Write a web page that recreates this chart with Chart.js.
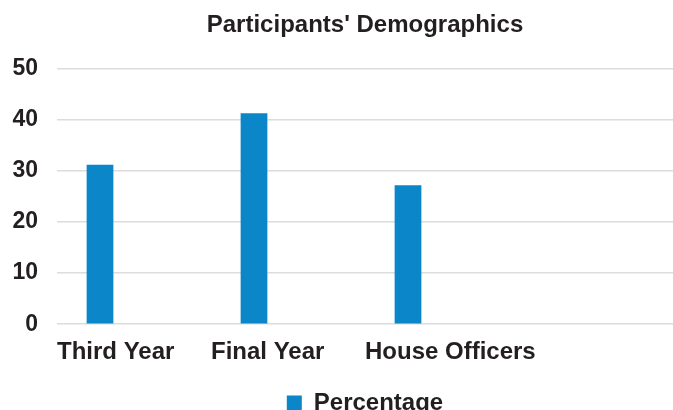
<!DOCTYPE html>
<html>
<head>
<meta charset="utf-8">
<title>Participants' Demographics</title>
<script src="https://cdn.jsdelivr.net/npm/chart.js@4.4.1/dist/chart.umd.min.js"></script>
<style>
  html, body { margin: 0; padding: 0; background: #fff; }
  #wrap { width: 673px; height: 410px; }
</style>
</head>
<body>
<div id="wrap"><canvas id="myChart"></canvas></div>
<script>
// chart values
const categories = ['Third Year', 'Final Year', 'House Officers', ''];
const percentage = [31.2, 41.3, 27.2, null];
const emptySeries = [null, null, null, null]; // second (empty) column of the sheet
const yTicks = [0, 10, 20, 30, 40, 50];

const textColor = '#231f20';
const font = 'Liberation Sans, Arial, sans-serif';

const ctx = document.getElementById('myChart');
new Chart(ctx, {
  type: 'bar',
  data: {
    labels: categories,
    datasets: [
      {
        label: 'Percentage',
        data: percentage,
        backgroundColor: '#0b86c9',
        borderWidth: 0,
      },
      {
        label: '',
        data: emptySeries,
        backgroundColor: '#0b86c9',
      },
    ],
  },
  options: {
    responsive: true,
    maintainAspectRatio: false,
    animation: false,
    categoryPercentage: 0.883,
    barPercentage: 0.393,
    layout: { padding: { left: 0, right: 0, top: 0, bottom: -15 } },
    plugins: {
      title: {
        display: true,
        text: "Participants' Demographics",
        fullSize: false,
        color: textColor,
        font: { family: font, size: 24, weight: 'bold' },
        padding: { top: 11, bottom: 29 },
      },
      legend: {
        position: 'bottom',
        fullSize: false,
        labels: {
          color: textColor,
          font: { family: font, size: 24, weight: 'bold' },
          boxWidth: 15,
          boxHeight: 15,
          padding: 10,
          filter: (item) => item.text !== '',
        },
      },
      tooltip: { enabled: false },
    },
    scales: {
      x: {
        grid: { display: false, drawTicks: false },
        border: { display: false },
        ticks: {
          color: textColor,
          font: { family: font, size: 24, weight: 'bold' },
          align: 'start',
          labelOffset: -77,
          padding: 14,
          autoSkip: false,
          maxRotation: 0,
        },
      },
      y: {
        min: 0,
        max: 50,
        afterBuildTicks: (axis) => { axis.ticks = yTicks.map((v) => ({ value: v })); },
        afterFit: (axis) => { axis.width = 57; },
        grid: { color: '#dcdcdc', lineWidth: 1.5, drawTicks: false },
        border: { display: false },
        ticks: {
          color: textColor,
          font: { family: font, size: 23, weight: 'bold' },
          padding: 19,
        },
      },
    },
  },
});
</script>
</body>
</html>
